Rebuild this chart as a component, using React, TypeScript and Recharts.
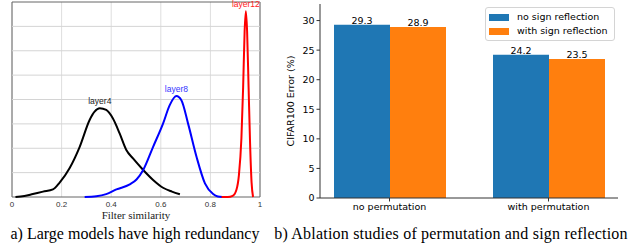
import React from 'react';
import {
  LineChart, Line, XAxis, YAxis, CartesianGrid, ReferenceArea,
  BarChart, Bar, LabelList, Legend,
} from 'recharts';

// ---------- left panel: filter similarity densities ----------
const layer4: [number, number][] = [
  [0.014, 0], [0.05, 0.04], [0.084, 0.12], [0.125, 0.22], [0.165, 0.31], [0.192, 0.59],
  [0.232, 1.18], [0.273, 2.06], [0.313, 3.16], [0.333, 3.5], [0.354, 3.64], [0.38, 3.57],
  [0.407, 3.22], [0.434, 2.61], [0.461, 1.93], [0.488, 1.58], [0.529, 1.11], [0.569, 0.7],
  [0.609, 0.38], [0.645, 0.22], [0.677, 0.11],
];
const layer8: [number, number][] = [
  [0.293, 0], [0.34, 0.03], [0.38, 0.12], [0.421, 0.31], [0.475, 0.52], [0.502, 0.72],
  [0.529, 1.11], [0.569, 2.06], [0.609, 3.01], [0.636, 3.77], [0.663, 4.14], [0.683, 3.97],
  [0.71, 3.01], [0.744, 1.65], [0.778, 0.56], [0.811, 0.12], [0.83, 0.02], [0.849, 0],
];
const layer12: [number, number][] = [
  [0.845, 0], [0.87, 0], [0.89, 0.05], [0.905, 0.3], [0.915, 0.9], [0.925, 2.4],
  [0.932, 4.5], [0.938, 6.8], [0.943, 7.62], [0.948, 6.8], [0.954, 4.5], [0.96, 2.2],
  [0.966, 0.6], [0.972, 0],
];
const similarityTicks = [0, 0.2, 0.4, 0.6, 0.8, 1];
const densityTicks = [0, 1, 2, 3, 4, 5, 6, 7, 8];
const densityGrid = [1, 2, 3, 4, 5, 6, 7];

// ---------- right panel: ablation bars ----------
const categories = ['no permutation', 'with permutation'];
const noSignReflection = [29.3, 24.2];
const withSignReflection = [28.9, 23.5];
const errorTicks = [0, 5, 10, 15, 20, 25, 30];

const toPts = (arr: [number, number][]) => arr.map(([x, y]) => ({ x, y }));
const barData = categories.map((cat, i) => ({
  cat,
  noSign: noSignReflection[i],
  withSign: withSignReflection[i],
}));

const SANS = '"Liberation Sans", Arial, sans-serif';
const DEJAVU = '"DejaVu Sans", sans-serif';
const SERIF = '"Liberation Serif", "Times New Roman", serif';
const GRID = '#d4d4d4';

function peakLabel(data: [number, number][], text: string, color: string) {
  let peak = 0;
  data.forEach((d, i) => { if (d[1] > data[peak][1]) peak = i; });
  return (props: any) => {
    if (props.index !== peak) return null;
    return (
      <text x={props.x} y={props.y - 4} textAnchor="middle" fontSize={8.5}
        fontFamily={SANS} fill={color}>{text}</text>
    );
  };
}

function LegendBox(props: any) {
  const payload = props.payload || [];
  return (
    <div style={{
      border: '1px solid #d4d4d4', borderRadius: 3, background: '#fff',
      padding: '2px 4px 2px 3px', fontFamily: DEJAVU, fontSize: 9.5,
      lineHeight: '14px', color: '#000', width: 121,
    }}>
      {payload.map((p: any) => (
        <div key={p.value} style={{ display: 'flex', alignItems: 'center', whiteSpace: 'nowrap' }}>
          <span style={{ display: 'inline-block', width: 20, height: 7, background: p.color, marginRight: 8 }} />
          <span>{p.value}</span>
        </div>
      ))}
    </div>
  );
}

export default function App() {
  return (
    <div style={{ position: 'absolute', left: 0, top: 0, width: 632, height: 245, background: '#fff', overflow: 'hidden' }}>
      <div style={{ position: 'absolute', left: 0, top: 0 }}>
        <LineChart width={272} height={221} margin={{ top: 2, right: 12, bottom: 0, left: 12 }}>
          <CartesianGrid stroke="#dedede" strokeWidth={1} horizontal={false} />
          <XAxis type="number" dataKey="x" domain={[0, 1]} ticks={similarityTicks}
            allowDataOverflow axisLine={false} tickLine={false} tickSize={2} height={24}
            tick={{ fontSize: 8, fontFamily: SANS, fill: '#333' }}
            label={{ value: 'Filter similarity', position: 'insideBottom', offset: 2, fontSize: 11, fontFamily: SERIF, fill: '#222' }} />
          <YAxis type="number" domain={[0, 8]} ticks={densityTicks} hide />
          {densityGrid.map((v) => (
            <Line key={'g' + v} data={[{ x: 0, y: v }, { x: 1, y: v }]} dataKey="y" type="linear"
              stroke={GRID} strokeWidth={1} dot={false} activeDot={false} isAnimationActive={false} legendType="none" />
          ))}
          <ReferenceArea x1={0} x2={1} y1={0} y2={8} fill="none" stroke="#666" strokeWidth={1} ifOverflow="visible" />
          <Line data={toPts(layer4)} dataKey="y" type="monotone" stroke="#000" strokeWidth={2}
            dot={false} isAnimationActive={false} label={peakLabel(layer4, 'layer4', '#222')} />
          <Line data={toPts(layer8)} dataKey="y" type="monotone" stroke="#0000ff" strokeWidth={2}
            dot={false} isAnimationActive={false} label={peakLabel(layer8, 'layer8', '#3535ff')} />
          <Line data={toPts(layer12)} dataKey="y" type="monotone" stroke="#ff0000" strokeWidth={2}
            dot={false} isAnimationActive={false} label={peakLabel(layer12, 'layer12', '#ff2020')} />
        </LineChart>
      </div>

      <div style={{ position: 'absolute', left: 270, top: 0 }}>
        <BarChart width={362} height={216} data={barData} barGap={0}
          margin={{ top: 4, right: 14, bottom: 2, left: 10 }}>
          <XAxis dataKey="cat" padding={{ left: -10, right: -10 }} height={16}
            stroke="#333" tickSize={3.5} tickLine={{ stroke: '#333' }}
            tick={{ fontSize: 9.5, fontFamily: DEJAVU, fill: '#000' }} interval={0} />
          <XAxis xAxisId="top" dataKey="cat" orientation="top" height={0} tick={false} tickLine={false} stroke="#333" />
          <YAxis domain={[0, 32.8]} ticks={errorTicks} width={40} allowDataOverflow
            stroke="#333" tickSize={3.5} tickLine={{ stroke: '#333' }}
            tick={{ fontSize: 9.5, fontFamily: DEJAVU, fill: '#000' }}
            label={{ value: 'CIFAR100 Error (%)', angle: -90, position: 'insideLeft', offset: 10.5,
              fontSize: 9.5, fontFamily: DEJAVU, fill: '#000', style: { textAnchor: 'middle' } }} />
          <YAxis yAxisId="right" orientation="right" domain={[0, 32.8]} width={0} tick={false} tickLine={false} stroke="#333" />
          <Legend layout="vertical" align="center" verticalAlign="middle" content={LegendBox}
            wrapperStyle={{ left: 215, top: 7, width: 'auto', height: 'auto' }} />
          <Bar dataKey="noSign" name="no sign reflection" fill="#1f77b4" barSize={56} isAnimationActive={false}>
            <LabelList dataKey="noSign" position="top" offset={1} fontSize={9.5} fontFamily={DEJAVU} fill="#000" />
          </Bar>
          <Bar dataKey="withSign" name="with sign reflection" fill="#ff7f0e" barSize={56} isAnimationActive={false}>
            <LabelList dataKey="withSign" position="top" offset={1} fontSize={9.5} fontFamily={DEJAVU} fill="#000" />
          </Bar>
        </BarChart>
      </div>

      <div style={{ position: 'absolute', left: 0, width: 270, top: 226, textAlign: 'center', fontFamily: SERIF, fontSize: 16, lineHeight: '16px', whiteSpace: 'nowrap', color: '#000' }}>
        a) Large models have high redundancy
      </div>
      <div style={{ position: 'absolute', left: 270, width: 362, top: 226, textAlign: 'center', fontFamily: SERIF, fontSize: 16, lineHeight: '16px', whiteSpace: 'nowrap', color: '#000', letterSpacing: '0.2px' }}>
        b) Ablation studies of permutation and sign reflection
      </div>
    </div>
  );
}
